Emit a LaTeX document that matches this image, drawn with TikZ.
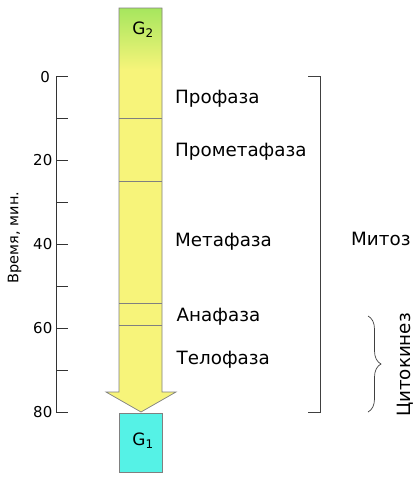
\documentclass[tikz,border=0pt]{standalone}
\usepackage{fontspec}
\setmainfont{DejaVu Sans}
\usetikzlibrary{decorations.pathreplacing}
\definecolor{barY}{HTML}{F7F47A}
\definecolor{barG}{HTML}{A6E65E}
\definecolor{cyanG}{HTML}{55F2E6}
\definecolor{edge}{HTML}{808080}
\tikzset{
  phase/.style={anchor=base west,font=\fontsize{18.3}{20}\selectfont,inner sep=0pt},
  tick/.style={anchor=east,font=\fontsize{15}{17}\selectfont,inner sep=0pt},
  axis/.style={draw=black!80,line width=0.9pt},
  sep/.style={draw=edge,line width=0.7pt},
  glab/.style={font=\fontsize{17}{19}\selectfont,inner sep=0pt},
}
\begin{document}
\begin{tikzpicture}[x=1pt,y=-1pt]
\useasboundingbox (0,0) rectangle (418,480);
% bar body
\fill[barY] (119,8) -- (162,8) -- (162,392) -- (176,392) -- (141,412) -- (106,392) -- (119,392) -- cycle;
\shade[top color=barG,bottom color=barY] (119,8) rectangle (162,70);
\draw[sep] (119,8) -- (162,8) -- (162,392) -- (176,392) -- (141,412) -- (106,392) -- (119,392) -- cycle;
\draw[sep] (119,118) -- (162,118);
\draw[sep] (119,181) -- (162,181);
\draw[sep] (119,303) -- (162,303);
\draw[sep] (119,325) -- (162,325);
\node[glab] (g2) at (143,30) {G\textsubscript{2}};
% G1 box
\node[draw=edge,line width=0.7pt,fill=cyanG,minimum width=43pt,minimum height=59pt,inner sep=0pt,anchor=north] (g1box) at (140.5,412.5) {};
\node[glab] (g1) at (143,441) {G\textsubscript{1}};
% axis
\draw[axis] (56,76.5) -- (56,412);
\foreach \y in {76.5,118,160,202,244,286,328,370,412} \draw[axis] (56,\y) -- (68,\y);
\node[tick] (t0) at (50,77.5) {0};
\node[tick] (t20) at (52.5,160) {20};
\node[tick] (t40) at (52.5,244) {40};
\node[tick] (t60) at (52.5,328) {60};
\node[tick] (t80) at (52.5,412) {80};
\node[rotate=90,font=\fontsize{14.5}{16}\selectfont,inner sep=0pt] (ylab) at (14.5,237.5) {Время, мин.};
% phases
\node[phase] (p1) at (175,103.7) {Профаза};
\node[phase] (p2) at (175,156) {Прометафаза};
\node[phase] (p3) at (175,246) {Метафаза};
\node[phase] (p4) at (176.5,321.7) {Анафаза};
\node[phase] (p5) at (176.5,364.7) {Телофаза};
% mitosis bracket
\draw[draw=black!75,line width=0.8pt] (308,76.5) -- (320,76.5) -- (320,412) -- (308,412);
\node[phase] (mit) at (351,245.7) {Митоз};
% cytokinesis brace
\draw[draw=black!75,line width=0.7pt,decorate,decoration={brace,amplitude=13pt}] (368,316) -- (368,412);
\node[phase,anchor=base,rotate=90] (cyt) at (410,365) {Цитокинез};
\end{tikzpicture}
\end{document}
